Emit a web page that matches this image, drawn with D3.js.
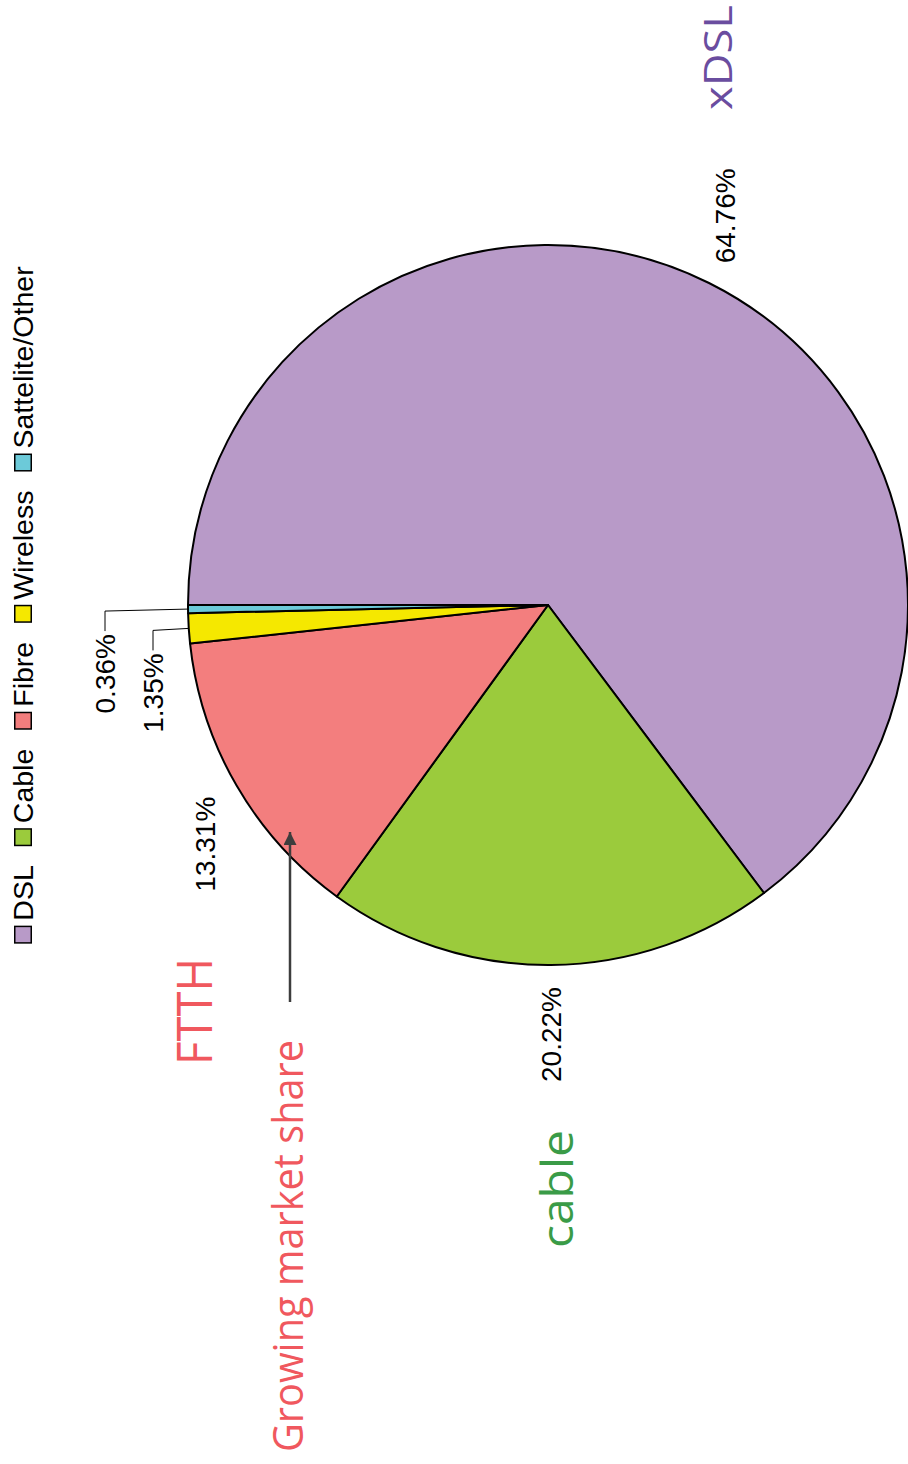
<!DOCTYPE html>
<html>
<head>
<meta charset="utf-8">
<script src="https://cdn.jsdelivr.net/npm/d3@7"></script>
<style>
  html, body { margin: 0; padding: 0; background: #fff; }
  svg { display: block; }
</style>
</head>
<body>
<svg id="chart" width="908" height="1464"></svg>
<script>
// Broadband access technology shares
const categories = ["DSL", "Cable", "Fibre", "Wireless", "Sattelite/Other"];
const shares = [64.76, 20.22, 13.31, 1.35, 0.36];
const sliceColors = ["#b89ac8", "#9bcb3c", "#f37e7e", "#f5e800", "#6ccad9"];

// Callout texts drawn beside the pie
const calloutTexts = ["xDSL", "cable", "FTTH", "Growing market share"];
const calloutColors = ["#6a4d9f", "#3a9b47", "#f0585e", "#f0585e"];

const W = 1464, H = 908;           // drawing frame before rotation
const svg = d3.select("#chart");
// the whole chart is laid out landscape and turned a quarter turn counter-clockwise
const root = svg.append("g").attr("transform", `translate(0,${W}) rotate(-90)`);

const cx = 859, cy = 548, R = 360;
const pie = d3.pie().sort(null).value(d => d.value);
const arcs = pie(categories.map((c, i) => ({ name: c, value: shares[i], color: sliceColors[i] })));
const arc = d3.arc().innerRadius(0).outerRadius(R);
const edgeArc = d3.arc().innerRadius(R).outerRadius(R);
const fmt = v => d3.format(".2f")(v) + "%";
const labelFont = "Liberation Sans, Arial, Helvetica, sans-serif";

const pieG = root.append("g").attr("transform", `translate(${cx},${cy})`);
pieG.selectAll("path.slice")
  .data(arcs)
  .join("path")
  .attr("class", "slice")
  .attr("d", arc)
  .attr("fill", d => d.data.color)
  .attr("stroke", "#000")
  .attr("stroke-width", 2)
  .attr("stroke-linejoin", "round");

// value labels: large slices get a label just outside the rim,
// anchored away from the pie on whichever side they fall
const midAngle = d => (d.startAngle + d.endAngle) / 2;
const labelPos = d => {
  const a = midAngle(d);
  return [Math.sin(a) * (R + 22), -Math.cos(a) * (R + 36)];
};
const big = arcs.filter(d => d.data.value >= 5);
pieG.selectAll("text.val")
  .data(big)
  .join("text")
  .attr("class", "val")
  .attr("transform", d => `translate(${labelPos(d)})`)
  .attr("text-anchor", d => Math.sin(midAngle(d)) >= 0 ? "start" : "end")
  .attr("dominant-baseline", "central")
  .attr("font-family", labelFont)
  .attr("font-size", 28)
  .attr("fill", "#000")
  .text(d => fmt(d.data.value));

// thin slices get a leader line ending beside the label
const small = arcs.filter(d => d.data.value < 5);
const leaderLift = [35, 83];
small.forEach((d, i) => {
  const [ex, ey] = edgeArc.centroid(d);
  const ly = -R - leaderLift[i];
  pieG.append("path")
    .attr("d", d3.line()([[ex, ey], [ex - 2, ly], [ex - 22, ly]]))
    .attr("fill", "none")
    .attr("stroke", "#000")
    .attr("stroke-width", 1);
  pieG.append("text")
    .attr("x", ex - 25)
    .attr("y", ly)
    .attr("text-anchor", "end")
    .attr("dominant-baseline", "central")
    .attr("font-family", labelFont)
    .attr("font-size", 28)
    .text(fmt(d.data.value));
});

// legend along the top edge, centred on the pie
const legend = root.append("g");
const sw = 18, swGap = 5, itemGap = 19;
let lx = 0;
categories.forEach((c, i) => {
  const item = legend.append("g").attr("transform", `translate(${lx},0)`);
  item.append("rect")
    .attr("x", 0.75).attr("y", 0.75)
    .attr("width", sw - 1.5).attr("height", sw - 1.5)
    .attr("fill", sliceColors[i])
    .attr("stroke", "#000")
    .attr("stroke-width", 1.5);
  const t = item.append("text")
    .attr("x", sw + swGap)
    .attr("y", 19)
    .attr("font-family", labelFont)
    .attr("font-size", 28.5)
    .text(c);
  lx += sw + swGap + t.node().getComputedTextLength() + (i < categories.length - 1 ? itemGap : 0);
});
legend.attr("transform", `translate(${cx - lx / 2},14)`);

// callouts
const callouts = [
  { x: 1354, y: 732, size: 38, len: 105 },
  { x: 216, y: 573, size: 43, len: 118 },
  { x: 399, y: 212, size: 49, len: 107 },
  { x: 12, y: 303, size: 42, len: 412 }
];
callouts.forEach((c, i) => {
  root.append("text")
    .attr("x", c.x)
    .attr("y", c.y)
    .attr("font-family", "Open Sans, sans-serif")
    .attr("font-size", c.size)
    .attr("textLength", c.len)
    .attr("lengthAdjust", "spacingAndGlyphs")
    .attr("fill", calloutColors[i])
    .text(calloutTexts[i]);
});

// arrow pointing at the fibre slice
const defs = svg.append("defs");
defs.append("marker")
  .attr("id", "head")
  .attr("viewBox", "0 0 10 10")
  .attr("refX", 10).attr("refY", 5)
  .attr("markerWidth", 15).attr("markerHeight", 13)
  .attr("markerUnits", "userSpaceOnUse")
  .attr("orient", "auto")
  .append("path")
  .attr("d", "M0,0L10,5L0,10Z")
  .attr("fill", "#3d3d3d");
root.append("path")
  .attr("d", d3.line()([[462, 290], [632, 290]]))
  .attr("stroke", "#3d3d3d")
  .attr("stroke-width", 2.5)
  .attr("marker-end", "url(#head)");
</script>
</body>
</html>
